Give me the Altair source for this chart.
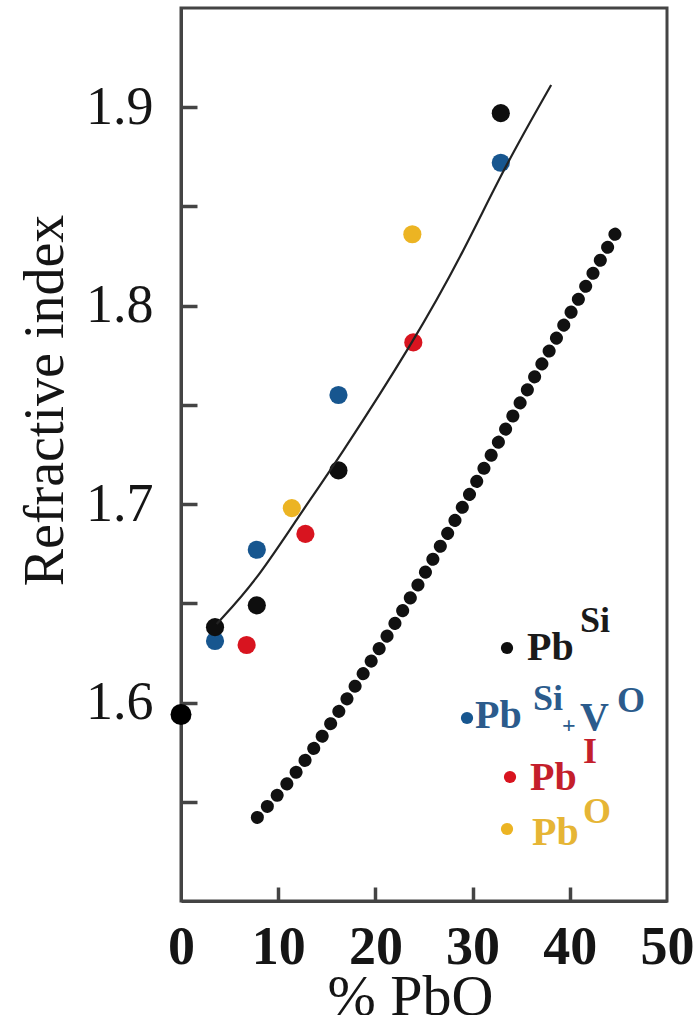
import altair as alt
import pandas as pd

# ---------------- data ----------------
series_names = ["Pb^Si + V^O", "Pb^I", "Pb^O", "Pb^Si"]
series_colors = ["#17568f", "#d8141f", "#ecb423", "#0e0e0e"]

pct_blue = [3.5, 7.8, 16.2, 32.9]
n_blue = [1.631, 1.677, 1.755, 1.872]
pct_red = [6.75, 12.8, 23.9]
n_red = [1.629, 1.685, 1.7815]
pct_yellow = [11.4, 23.8]
n_yellow = [1.698, 1.836]
pct_black = [3.5, 7.8, 16.2, 32.9]
n_black = [1.638, 1.649, 1.717, 1.897]

pct_silica = [0.0]
n_silica = [1.594]

fit_pct = [3.67, 7.62, 11.91, 16.19, 23.91, 29.05, 33.17, 38.08]
fit_n = [1.6396, 1.6606, 1.6925, 1.7227, 1.7816, 1.8269, 1.8689, 1.9112]

dotted_pct = [7.85, 10.87, 20.14, 37.80, 45.18]
dotted_n = [1.5421, 1.5589, 1.6253, 1.7765, 1.8407]

x_tick_values = [0, 10, 20, 30, 40, 50]
y_tick_values = [1.55, 1.6, 1.65, 1.7, 1.75, 1.8, 1.85, 1.9]

legend_main = ["Pb", "Pb", "Pb", "Pb"]
legend_sup = ["Si", "Si", "I", "O"]
legend_extra = ["+", "V", "O"]

# ---------------- tables ----------------
pts = pd.DataFrame({
    "pct": pct_blue + pct_red + pct_yellow + pct_black,
    "n": n_blue + n_red + n_yellow + n_black,
    "series": [series_names[0]] * len(pct_blue) + [series_names[1]] * len(pct_red)
    + [series_names[2]] * len(pct_yellow) + [series_names[3]] * len(pct_black),
})
silica = pd.DataFrame({"pct": pct_silica, "n": n_silica})
fit = pd.DataFrame({"pct": fit_pct, "n": fit_n})
dotted = pd.DataFrame({"pct": dotted_pct, "n": dotted_n})

SERIF = "Liberation Serif"
AXC = "#444444"

x_axis = alt.Axis(
    values=x_tick_values, format="d", grid=False,
    labelFont=SERIF, labelFontWeight="bold", labelFontSize=54, labelColor="#151515",
    labelBaseline="alphabetic", labelPadding=76, labelFlush=False, labelOverlap=False,
    tickSize={"expr": "-14"}, tickWidth=3.5, tickColor=AXC,
    tickOpacity={"condition": {"test": "datum.value == 0 || datum.value >= 50", "value": 0}, "value": 1},
    domainColor=AXC, domainWidth=3,
    title="% PbO", titleFont=SERIF, titleFontWeight="normal", titleFontSize=58,
    titleColor="#151515", titleX=229, titleY=113, titleBaseline="alphabetic", titleAlign="center",
)
y_axis = alt.Axis(
    values=y_tick_values, grid=False,
    labelExpr="(round(datum.value*100) % 10 == 0) ? format(datum.value, '.1f') : ''",
    labelFont=SERIF, labelFontSize=54, labelColor="#151515", labelPadding=44,
    labelFlush=False, labelOverlap=False,
    tickSize={"expr": "-16"}, tickWidth=3.5, tickColor=AXC,
    domainColor=AXC, domainWidth=3,
    title="Refractive index", titleFont=SERIF, titleFontWeight="normal", titleFontSize=56,
    titleColor="#151515", titleX=-119, titleY=392, titleAngle=270,
    titleBaseline="alphabetic", titleAlign="center",
)

X = alt.X("pct:Q", scale=alt.Scale(domain=[0, 50], nice=False, zero=False), axis=x_axis)
Y = alt.Y("n:Q", scale=alt.Scale(domain=[1.5, 1.95], nice=False, zero=False), axis=y_axis)

dotted_layer = alt.Chart(dotted).mark_line(
    color="#111111", strokeWidth=13, strokeCap="round", strokeDash=[0.1, 14.8],
    interpolate="monotone", clip=False,
).encode(x=X, y=Y)

points_layer = alt.Chart(pts).mark_circle(size=330, opacity=1).encode(
    x=X, y=Y,
    color=alt.Color("series:N", scale=alt.Scale(domain=series_names, range=series_colors), legend=None),
)

fit_layer = alt.Chart(fit).mark_line(color="#222222", strokeWidth=2.2, interpolate="basis").encode(x=X, y=Y)

silica_layer = alt.Chart(silica).mark_circle(size=440, color="#000000", opacity=1, clip=False).encode(x=X, y=Y)

# ---------------- custom legend with superscripts ----------------
one = pd.DataFrame({"k": [0]})
leg_colors_text = ["#1a1a1a", "#2b5b8c", "#c41f2c", "#e6b535"]
leg_dot_colors = ["#0e0e0e", "#17568f", "#d8141f", "#ecb423"]
# (dot x, dot y), (main x, baseline), (sup x, baseline)
leg_layout = [
    ((326, 640), (346, 652), (399, 624)),
    ((286, 710), (294, 720), (352, 702)),
    ((329, 769), (349, 782), (402, 755)),
    ((326, 821), (351, 837), (402, 815)),
]
legend_layers = []
for i, ((dx_, dy_), (mx, my), (sx, sy)) in enumerate(leg_layout):
    legend_layers.append(
        alt.Chart(one).mark_circle(size=150, opacity=1, color=leg_dot_colors[i]).encode(
            x=alt.value(dx_), y=alt.value(dy_))
    )
    legend_layers.append(
        alt.Chart(one).mark_text(font=SERIF, fontWeight="bold", fontSize=40, align="left",
                                 baseline="alphabetic", color=leg_colors_text[i]).encode(
            x=alt.value(mx), y=alt.value(my), text=alt.value(legend_main[i]))
    )
    legend_layers.append(
        alt.Chart(one).mark_text(font=SERIF, fontWeight="bold", fontSize=36, align="left",
                                 baseline="alphabetic", color=leg_colors_text[i]).encode(
            x=alt.value(sx), y=alt.value(sy), text=alt.value(legend_sup[i]))
    )
# extra parts of the second entry: "+ V^O"
extra_layout = [(381, 725, 24), (399, 722, 40), (436, 704, 36)]
for j, (ex, ey, fs) in enumerate(extra_layout):
    legend_layers.append(
        alt.Chart(one).mark_text(font=SERIF, fontWeight="bold", fontSize=fs, align="left",
                                 baseline="alphabetic", color=leg_colors_text[1]).encode(
            x=alt.value(ex), y=alt.value(ey), text=alt.value(legend_extra[j]))
    )

chart = alt.layer(
    dotted_layer, points_layer, fit_layer, silica_layer, *legend_layers
).properties(
    width=486, height=893,
    autosize=alt.AutoSizeParams(type="none"),
    padding={"left": 181, "top": 8, "right": 32, "bottom": 114},
    background="white",
).configure_view(stroke=AXC, strokeWidth=3)

chart.save("out.html", embed_options={"renderer": "svg", "actions": False})
